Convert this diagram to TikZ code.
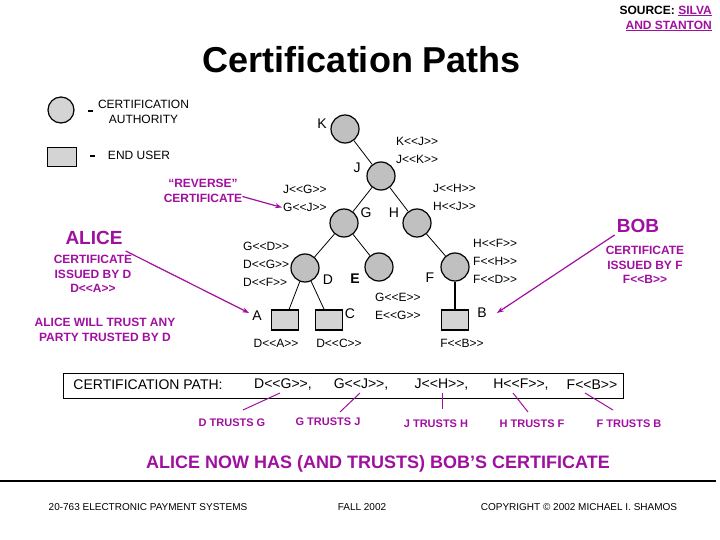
\documentclass[tikz,border=0pt]{standalone}
\usepackage{fontspec}
\setmainfont{Liberation Sans}[Ligatures=TeXOff]
\usepackage{tikz}
\usetikzlibrary{arrows.meta, positioning}
\definecolor{purp}{RGB}{160,16,160}
\definecolor{cagray}{RGB}{192,192,192}
\definecolor{eugray}{RGB}{212,212,212}
\newcommand{\fsz}[2]{\fontsize{#1}{#2}\selectfont}

\begin{document}
\begin{tikzpicture}[x=1pt, y=-1pt,
  ca/.style={circle, draw, line width=1.2pt, fill=cagray, minimum size=28pt, inner sep=0pt},
  eu/.style={draw, line width=1.2pt, fill=eugray, minimum width=27pt, minimum height=20pt, inner sep=0pt},
  cert/.style={font=\fsz{12}{18}, align=left, anchor=west, inner sep=0pt},
  ltr/.style={font=\fsz{14}{16}, inner sep=0pt},
  note/.style={font=\bfseries\fsz{12}{14.5}, text=purp, align=center, inner sep=0pt},
  big/.style={font=\bfseries\fsz{19}{22}, text=purp, inner sep=0pt},
  parr/.style={draw=purp, line width=1.2pt, -{Stealth[length=7pt, width=5pt]}},
  link/.style={line width=0.8pt},
  pth/.style={font=\fsz{14}{16}, inner sep=0pt},
  trust/.style={font=\bfseries\fsz{11}{13}, text=purp, inner sep=0pt},
  tline/.style={draw=purp, line width=1pt},
  foot/.style={font=\fsz{10}{12}, inner sep=0pt},
  legbar/.style={fill, minimum width=5pt, minimum height=2.5pt, inner sep=0pt},
]
  \useasboundingbox (0,0) rectangle (720,540);

  % header
  \node[font=\bfseries\fsz{12}{15}, align=right, anchor=east, inner sep=0pt] (src) at (712,18.5)
    {SOURCE: \textcolor{purp}{\underline{SILVA}}\\\textcolor{purp}{\underline{AND STANTON}}};
  \node[font=\bfseries\fsz{36}{40}, inner sep=0pt] (title) at (362,60) {Certification Paths};

  % legend
  \node[ca, fill=eugray, minimum size=26pt] (legca) at (61,110) {};
  \node[legbar] (barca) at (90,111) {};
  \node[font=\fsz{12}{15}, align=center, inner sep=0pt] (legcatxt) at (143.5,111.5) {CERTIFICATION\\AUTHORITY};
  \node[eu, minimum width=29pt, minimum height=19pt] (legeu) at (62,157) {};
  \node[legbar] (bareu) at (92,156) {};
  \node[font=\fsz{12}{15}, inner sep=0pt] (legeutxt) at (139,155) {END USER};

  % tree
  \node[ca] (K) at (345,129) {};
  \node[ca] (J) at (381,176) {};
  \node[ca] (G) at (344,223) {};
  \node[ca] (H) at (417,223) {};
  \node[ca] (D) at (305,268) {};
  \node[ca] (E) at (379,267) {};
  \node[ca] (F) at (455,267) {};
  \node[eu] (A) at (285,320) {};
  \node[eu] (C) at (329,320) {};
  \node[eu] (B) at (455,320) {};

  \draw[link] (K) -- (J);
  \draw[link] (J) -- (G);
  \draw[link] (J) -- (H);
  \draw[link] (G) -- (D);
  \draw[link] (G) -- (E);
  \draw[link] (H) -- (F);
  \draw[link] (D) -- (A);
  \draw[link] (D) -- (C);
  \draw[line width=1.8pt] (F) -- (B);

  \node[ltr] (lK) at (322,124) {K};
  \node[ltr] (lJ) at (357,168) {J};
  \node[ltr] (lG) at (366,213) {G};
  \node[ltr] (lH) at (394,213) {H};
  \node[ltr] (lD) at (328,280) {D};
  \node[ltr] (lE) at (355,279) {\bfseries E};
  \node[ltr] (lF) at (430,278) {F};
  \node[ltr] (lA) at (257,316) {A};
  \node[ltr] (lC) at (350,314) {C};
  \node[ltr] (lB) at (482,313) {B};

  \node[cert] (cKJ) at (396,150) {K<<J>>\\J<<K>>};
  \node[cert] (cJG) at (283,198.5) {J<<G>>\\G<<J>>};
  \node[cert] (cJH) at (433,197) {J<<H>>\\H<<J>>};
  \node[cert] (cGD) at (243,264) {G<<D>>\\D<<G>>\\D<<F>>};
  \node[cert] (cHF) at (473,261) {H<<F>>\\F<<H>>\\F<<D>>};
  \node[cert] (cGE) at (375,306) {G<<E>>\\E<<G>>};
  \node[cert, anchor=center] (cDA) at (276,343) {D<<A>>};
  \node[cert, anchor=center] (cDC) at (339,343) {D<<C>>};
  \node[cert, anchor=center] (cFB) at (462,343) {F<<B>>};

  % notes
  \node[note, font=\bfseries\fsz{12}{15}] (rev) at (203,190.5) {“REVERSE”\\CERTIFICATE};
  \draw[parr] ([yshift=-6pt]rev.east) -- ([xshift=-1pt,yshift=-9pt]cJG.west);

  \node[big] (alice) at (94,238) {ALICE};
  \node[note] (alicecert) at (93,274) {CERTIFICATE\\ISSUED BY D\\D<<A>>};
  \node[note, font=\bfseries\fsz{12}{15}] (alicetrust) at (105,329.5) {ALICE WILL TRUST ANY\\PARTY TRUSTED BY D};
  \draw[parr] ([shift={(3pt,-13pt)}]alice.east) -- ([xshift=-3pt,yshift=3pt]lA.west);

  \node[big] (bob) at (638,226) {BOB};
  \node[note] (bobcert) at (645,265) {CERTIFICATE\\ISSUED BY F\\F<<B>>};
  \draw[parr] ([xshift=-2pt,yshift=-2pt]bob.south west) -- ([xshift=10pt]lB.east);

  % certification path
  \node[draw, line width=1pt, minimum width=560pt, minimum height=25pt, inner sep=0pt] (pathbox) at (343,385.5) {};
  \node[pth] (ptitle) at (148,385) {CERTIFICATION PATH:};
  \node[pth] (pDG) at (283,385) {D<<G>>,};
  \node[pth] (pGJ) at (361,385) {G<<J>>,};
  \node[pth] (pJH) at (441.5,385) {J<<H>>,};
  \node[pth] (pHF) at (521,385) {H<<F>>,};
  \node[pth] (pFB) at (592,385) {F<<B>>};

  \node[trust] (tDG) at (232,423) {D TRUSTS G};
  \node[trust] (tGJ) at (328,422) {G TRUSTS J};
  \node[trust] (tJH) at (436,424) {J TRUSTS H};
  \node[trust] (tHF) at (532,424) {H TRUSTS F};
  \node[trust] (tFB) at (629,424) {F TRUSTS B};

  \draw[tline] ([shift={(-3,8)}]pDG.center) -- ([shift={(11,-13)}]tDG.center);
  \draw[tline] ([shift={(-1,8)}]pGJ.center) -- ([shift={(12,-10)}]tGJ.center);
  \draw[tline] ([shift={(0.5,8)}]pJH.center) -- ([shift={(6,-15)}]tJH.center);
  \draw[tline] ([shift={(-8,8)}]pHF.center) -- ([shift={(-4,-12)}]tHF.center);
  \draw[tline] ([shift={(-7,8)}]pFB.center) -- ([shift={(-16,-14)}]tFB.center);

  \node[font=\bfseries\fsz{18}{20}, text=purp, inner sep=0pt] (concl) at (378,464) {ALICE NOW HAS (AND TRUSTS) BOB’S CERTIFICATE};

  % footer
  \coordinate (ruleL) at (0,481);
  \coordinate (ruleR) at (716,481);
  \draw[line width=2pt] (ruleL) -- (ruleR);
  \node[foot] (course) at (148,507) {20-763 ELECTRONIC PAYMENT SYSTEMS};
  \node[foot] (term) at (362,507) {FALL 2002};
  \node[foot] (copy) at (579,507) {COPYRIGHT \textcopyright\ 2002 MICHAEL I. SHAMOS};
\end{tikzpicture}
\end{document}
